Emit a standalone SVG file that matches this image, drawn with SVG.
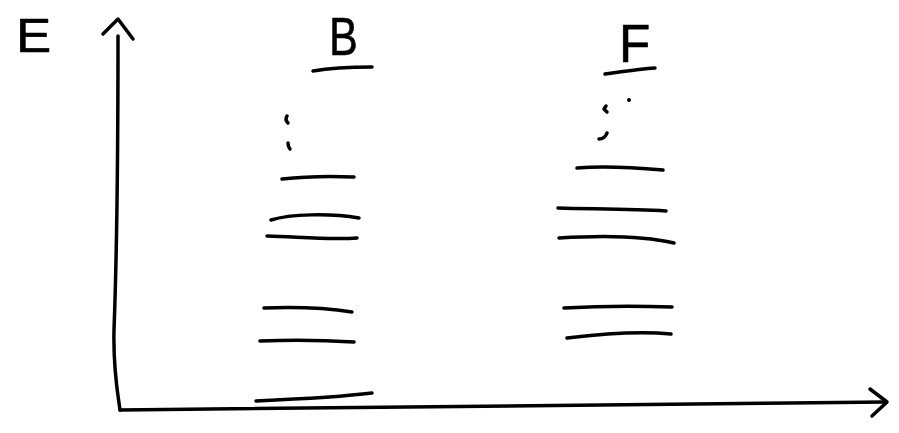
<svg xmlns="http://www.w3.org/2000/svg" width="899" height="433" viewBox="0 0 899 433">
<style>
.s{fill:none;stroke:#000;stroke-width:3.5;stroke-linecap:round;stroke-linejoin:round}
.t{font-family:"Liberation Sans",Arial,sans-serif;fill:#000;stroke:#000;stroke-width:0.6;stroke-linejoin:round}
</style>
<rect width="899" height="433" fill="#fff"/>
<g id="axes" class="s">
<path d="M118,36 C118,150 117,250 114,330 C113,370 118,395 120,410"/>
<path d="M103,34 L118,19 L133,39"/>
<path d="M120,410 C300,408 600,405 885,402"/>
<path d="M870,389 L887,402 L872,416"/>
</g>
<g id="label-E"><text class="t" x="16" y="52" font-size="48" transform="translate(16,52) scale(1.1,1) translate(-16,-52)">E</text></g>
<g id="col-B">
<text class="t" x="329" y="55" font-size="54" transform="translate(329,55) scale(0.8,1) translate(-329,-55)">B</text>
<path class="s" d="M313,71 C330,68 350,67 372,67"/>
<path class="s" d="M287,116 C285,119 286,121 288,123"/>
<path class="s" d="M288,143 C288,146 289,148 290,149"/>
<path class="s" d="M282,179 C300,177 330,176 354,177"/>
<path class="s" d="M271,220 C290,214 330,213 359,218"/>
<path class="s" d="M267,236 C300,237 330,240 357,238"/>
<path class="s" d="M264,308 C290,307 320,307 352,312"/>
<path class="s" d="M260,341 C290,340 320,340 354,342"/>
<path class="s" d="M256,401 C300,399 340,397 372,393"/>
</g>
<g id="col-F">
<text class="t" x="619" y="62" font-size="54" transform="translate(619,62) scale(0.95,1) translate(-619,-62)">F</text>
<path class="s" d="M605,74 C620,72 640,69 655,68"/>
<circle cx="629" cy="100" r="2"/>
<path class="s" d="M606,106 L604,109 L607,112"/>
<path class="s" d="M599,139 C603,139 606,136 607,133"/>
<path class="s" d="M577,168 C600,166 640,168 663,170"/>
<path class="s" d="M558,208 C590,209 630,209 666,211"/>
<path class="s" d="M559,238 C590,236 640,235 674,243"/>
<path class="s" d="M564,308 C600,306 640,306 672,307"/>
<path class="s" d="M567,338 C600,334 640,331 671,334"/>
</g>
</svg>
